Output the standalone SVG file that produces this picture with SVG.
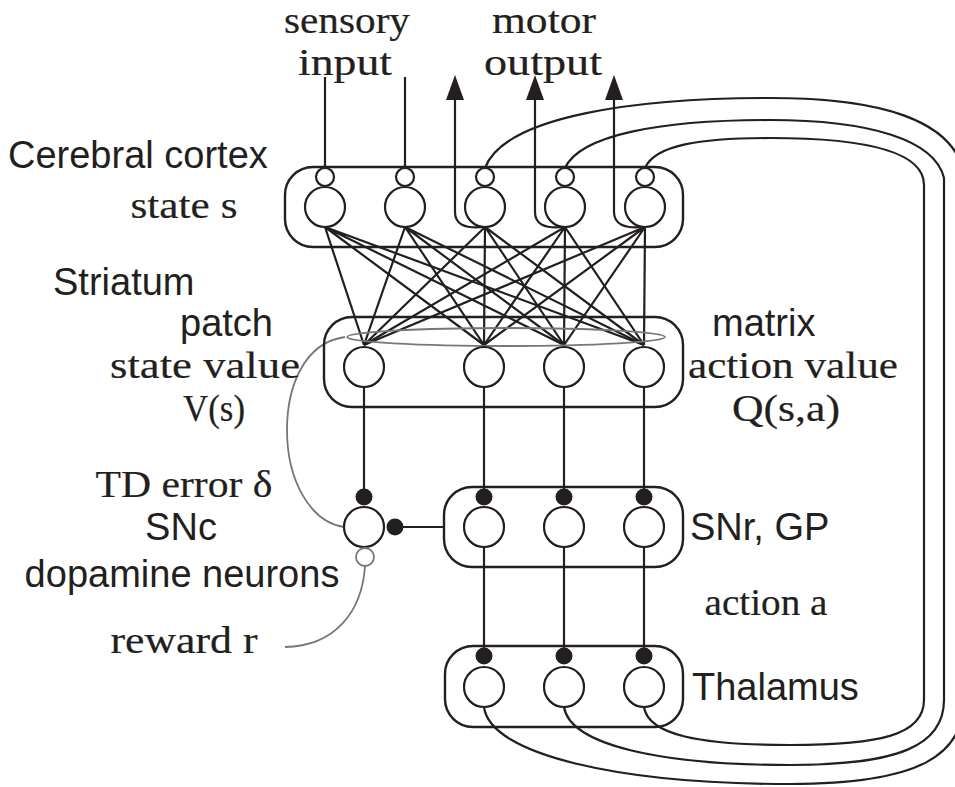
<svg xmlns="http://www.w3.org/2000/svg" width="955" height="787" viewBox="0 0 955 787">
<defs>
<style>
.serif{font-family:"Liberation Serif","Times New Roman",serif;font-size:37px;fill:#231f20;stroke:#231f20;stroke-width:0.2}
.sans{font-family:"Liberation Sans",Arial,sans-serif;font-size:38px;fill:#231f20}
.ln{fill:none;stroke:#231f20;stroke-width:2.2}
.gr{fill:none;stroke:#777;stroke-width:1.8}
.box{fill:none;stroke:#231f20;stroke-width:2.4}
.cell{fill:#fff;stroke:#231f20;stroke-width:2.2}
.dot{fill:#231f20}
.head{fill:#231f20}
</style>
</defs>
<rect width="955" height="787" fill="#fff"/>

<g id="connectors">
<!-- sensory input -->
<line class="ln" x1="325" y1="77" x2="325" y2="168"/>
<line class="ln" x1="405" y1="77" x2="405" y2="168"/>
<!-- motor output arrows -->
<path class="head" d="M455,75 L464,100 L446,100 Z"/>
<path class="head" d="M535,75 L544,100 L526,100 Z"/>
<path class="head" d="M614,75 L623,100 L605,100 Z"/>
<path class="ln" d="M455,99 V212 C455,224 464,229 484,227"/>
<path class="ln" d="M535,99 V212 C535,224 544,229 564,227"/>
<path class="ln" d="M614,99 V212 C614,224 624,229 644,227"/>
<!-- cortex to striatum -->
<g class="ln">
<path d="M325,227 L364,345 M325,227 L484,345 M325,227 L564,345 M325,227 L644,345"/>
<path d="M405,227 L364,345 M405,227 L484,345 M405,227 L564,345 M405,227 L644,345"/>
<path d="M485,227 L364,345 M485,227 L484,345 M485,227 L564,345 M485,227 L644,345"/>
<path d="M565,227 L364,345 M565,227 L484,345 M565,227 L564,345 M565,227 L644,345"/>
<path d="M645,227 L364,345 M645,227 L484,345 M645,227 L564,345 M645,227 L644,345"/>
</g>
<!-- striatum down -->
<line class="ln" x1="364" y1="387" x2="364" y2="490"/>
<line class="ln" x1="484" y1="387" x2="484" y2="490"/>
<line class="ln" x1="564" y1="387" x2="564" y2="490"/>
<line class="ln" x1="644" y1="387" x2="644" y2="490"/>
<!-- SNc to SNr -->
<line class="ln" x1="400" y1="527" x2="444" y2="527"/>
<!-- SNr to thalamus -->
<line class="ln" x1="484" y1="547" x2="484" y2="650"/>
<line class="ln" x1="564" y1="547" x2="564" y2="650"/>
<line class="ln" x1="644" y1="547" x2="644" y2="650"/>
<!-- thalamus to cortex loops -->
<path class="ln" d="M644,707 C648,735 700,745 790,745 C880,745 924,735 924,700 V185 C924,150 860,138 770,138 C700,138 655,145 645,168"/>
<path class="ln" d="M564,707 C570,745 660,765 790,765 C900,765 944,745 944,700 V178 C935,140 870,120 770,120 C660,120 580,135 565,168"/>
<path class="ln" d="M484,707 C490,755 620,784 790,784 C920,784 964,755 964,700 V175 C955,120 880,98 770,98 C640,98 505,115 485,168"/>
<!-- dopamine signal (gray) -->
<ellipse class="gr" cx="506" cy="337" rx="159" ry="9"/>
<path class="gr" d="M345,337 C302,343 287,390 287,430 C287,480 310,522 344,527"/>
<path class="gr" d="M365,566 C362,612 335,646 285,647"/>
</g>

<g id="cortex">
<rect class="box" x="285" y="167" width="398" height="80" rx="28"/>
<circle class="cell" cx="325" cy="177" r="9"/><circle class="cell" cx="325" cy="207" r="20"/>
<circle class="cell" cx="405" cy="177" r="9"/><circle class="cell" cx="405" cy="207" r="20"/>
<circle class="cell" cx="485" cy="177" r="9"/><circle class="cell" cx="485" cy="207" r="20"/>
<circle class="cell" cx="565" cy="177" r="9"/><circle class="cell" cx="565" cy="207" r="20"/>
<circle class="cell" cx="645" cy="177" r="9"/><circle class="cell" cx="645" cy="207" r="20"/>
</g>

<g id="striatum">
<rect class="box" x="324" y="317" width="359" height="90" rx="28"/>
<circle class="cell" cx="364" cy="367" r="20"/>
<circle class="cell" cx="484" cy="367" r="20"/>
<circle class="cell" cx="564" cy="367" r="20"/>
<circle class="cell" cx="644" cy="367" r="20"/>
</g>

<g id="snc">
<circle class="cell" cx="364" cy="527" r="20"/>
<circle class="dot" cx="364" cy="497" r="8.5"/>
<circle class="dot" cx="395" cy="527" r="8.5"/>
<circle cx="365" cy="557" r="9" fill="#fff" stroke="#777" stroke-width="1.8"/>
</g>

<g id="snr-gp">
<rect class="box" x="444" y="487" width="239" height="80" rx="28"/>
<circle class="cell" cx="484" cy="527" r="20"/><circle class="dot" cx="484" cy="497" r="8.5"/>
<circle class="cell" cx="564" cy="527" r="20"/><circle class="dot" cx="564" cy="497" r="8.5"/>
<circle class="cell" cx="644" cy="527" r="20"/><circle class="dot" cx="644" cy="497" r="8.5"/>
</g>

<g id="thalamus">
<rect class="box" x="445" y="646" width="238" height="81" rx="28"/>
<circle class="cell" cx="484" cy="687" r="20"/><circle class="dot" cx="484" cy="656" r="8.5"/>
<circle class="cell" cx="564" cy="687" r="20"/><circle class="dot" cx="564" cy="656" r="8.5"/>
<circle class="cell" cx="644" cy="687" r="20"/><circle class="dot" cx="644" cy="656" r="8.5"/>
</g>

<g id="labels">
<text class="serif" x="347" y="33" text-anchor="middle" textLength="126" lengthAdjust="spacingAndGlyphs">sensory</text>
<text class="serif" x="345" y="75" text-anchor="middle" textLength="94" lengthAdjust="spacingAndGlyphs">input</text>
<text class="serif" x="544" y="33" text-anchor="middle" textLength="104" lengthAdjust="spacingAndGlyphs">motor</text>
<text class="serif" x="543" y="75" text-anchor="middle" textLength="118" lengthAdjust="spacingAndGlyphs">output</text>
<text class="sans" x="8" y="168">Cerebral cortex</text>
<text class="serif" x="184" y="218" text-anchor="middle" textLength="107" lengthAdjust="spacingAndGlyphs">state s</text>
<text class="sans" x="53" y="295">Striatum</text>
<text class="sans" x="180" y="336">patch</text>
<text class="serif" x="205" y="378" text-anchor="middle" textLength="190" lengthAdjust="spacingAndGlyphs">state value</text>
<text class="serif" x="214" y="421" text-anchor="middle" textLength="62" lengthAdjust="spacingAndGlyphs">V(s)</text>
<text class="sans" x="712" y="336">matrix</text>
<text class="serif" x="688" y="378" textLength="210" lengthAdjust="spacingAndGlyphs">action value</text>
<text class="serif" x="786" y="421" text-anchor="middle" textLength="108" lengthAdjust="spacingAndGlyphs">Q(s,a)</text>
<text class="serif" x="184" y="497" text-anchor="middle" textLength="177" lengthAdjust="spacingAndGlyphs">TD error δ</text>
<text class="sans" x="181" y="540" text-anchor="middle">SNc</text>
<text class="sans" x="182" y="587" text-anchor="middle">dopamine neurons</text>
<text class="serif" x="184" y="653" text-anchor="middle" textLength="147" lengthAdjust="spacingAndGlyphs">reward r</text>
<text class="sans" x="690" y="540">SNr, GP</text>
<text class="serif" x="766" y="615" text-anchor="middle" textLength="123" lengthAdjust="spacingAndGlyphs">action a</text>
<text class="sans" x="692" y="700">Thalamus</text>
</g>
</svg>
